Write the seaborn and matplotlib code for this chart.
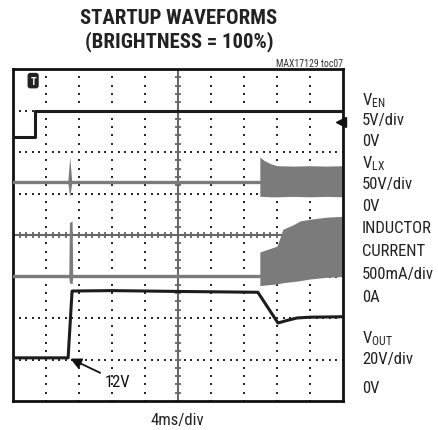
import matplotlib
matplotlib.use('Agg')
import matplotlib.pyplot as plt
from matplotlib import font_manager
import seaborn as sns
import pandas as pd
import numpy as np

# ---- data read from the scope shot (x in divisions 0..10, y in divisions 0..8) ----
ven_x = [0, 0.67, 0.67, 10]
ven_y = [6.36, 6.36, 6.98, 6.98]

vlx_x = [0, 7.48]
vlx_y = [5.28, 5.28]
vlx_spike_x = [1.66, 1.72, 1.78]
vlx_spike_hi = [5.30, 5.88, 5.30]
vlx_spike_lo = [5.26, 4.92, 5.26]
vlx_band_x = [7.48, 7.6, 7.8, 8.0, 8.5, 9.0, 9.5, 10.0]
vlx_band_hi = [5.88, 5.80, 5.72, 5.67, 5.66, 5.67, 5.66, 5.67]
vlx_band_lo = [4.93, 4.93, 4.92, 4.92, 4.93, 4.92, 4.93, 4.92]

il_x = [0, 7.48]
il_y = [3.01, 3.01]
il_spike_x = [1.69, 1.71, 1.79, 1.81]
il_spike_hi = [3.02, 4.30, 4.34, 3.02]
il_spike_lo = [3.00, 2.85, 2.82, 3.00]
il_band_x = [7.48, 7.7, 8.0, 8.18, 8.5, 8.7, 9.0, 9.5, 10.0]
il_band_hi = [3.59, 3.65, 3.73, 4.14, 4.25, 4.34, 4.38, 4.43, 4.45]
il_band_lo = [2.78, 2.80, 2.82, 2.85, 2.88, 2.90, 2.94, 2.98, 3.00]

vout_x = [0, 1.67, 1.79, 3, 5, 7.42, 8.03, 8.3, 8.6, 9.0, 10]
vout_y = [1.04, 1.04, 2.65, 2.66, 2.64, 2.62, 1.88, 1.94, 2.00, 2.02, 2.03]

right_labels = [
    (r'$\mathrm{V}_{\mathrm{EN}}$', 101), ('5V/div', 121), ('0V', 142),
    (r'$\mathrm{V}_{\mathrm{LX}}$', 164), ('50V/div', 185), ('0V', 207),
    ('INDUCTOR', 229), ('CURRENT', 252), ('500mA/div', 275), ('0A', 297),
    (r'$\mathrm{V}_{\mathrm{OUT}}$', 339), ('20V/div', 360), ('0V', 389),
]

sns.set_theme(style='white')

# pick the narrowest installed sans
names = {f.name for f in font_manager.fontManager.ttflist}
fam = 'Liberation Sans'
for cand in ['Roboto Condensed', 'Liberation Sans Narrow', 'Roboto']:
    if cand in names:
        fam = cand
        break
plt.rcParams['font.family'] = [fam, 'DejaVu Sans']
plt.rcParams['mathtext.fontset'] = 'custom'
plt.rcParams['mathtext.rm'] = fam
plt.rcParams['mathtext.it'] = fam
plt.rcParams['mathtext.bf'] = fam + ':bold'

W, H = 438, 431
fig = plt.figure(figsize=(W / 100, H / 100), dpi=100)
fig.patch.set_facecolor('white')
ax = fig.add_axes([13 / W, 29 / H, 330 / W, 332 / H])
ax.set_xlim(0, 10)
ax.set_ylim(0, 8)
ax.set_xticks([])
ax.set_yticks([])
for s in ax.spines.values():
    s.set_color('#111111')
    s.set_linewidth(2.0)

# dotted graticule
dot_c = '#2a2a2a'
yy = np.arange(0, 8.01, 0.2)
xx = np.arange(0, 10.01, 0.2)
for k in range(1, 10):
    if k == 5:
        continue
    ax.scatter(np.full_like(yy, k), yy, marker='s', s=2.6, color=dot_c, linewidths=0, zorder=1)
for k in range(1, 8):
    if k == 4:
        continue
    ax.scatter(xx, np.full_like(xx, k), marker='s', s=2.6, color=dot_c, linewidths=0, zorder=1)

# centre cross with minor ticks
cc = '#666666'
ax.axhline(4, color=cc, lw=1.5, zorder=1)
ax.axvline(5, color=cc, lw=1.5, zorder=1)
ax.scatter(xx, np.full_like(xx, 4), marker='|', s=24, color=cc, linewidths=1.3, zorder=1)
ax.scatter(np.full_like(yy, 5), yy, marker='_', s=24, color=cc, linewidths=1.3, zorder=1)

# gray traces: VLX and inductor current
gray = '#7b7b7b'
ax.fill_between(vlx_spike_x, vlx_spike_lo, vlx_spike_hi, color=gray, lw=0, zorder=2)
ax.fill_between(vlx_band_x, vlx_band_lo, vlx_band_hi, color=gray, lw=0, zorder=2)
ax.fill_between(il_spike_x, il_spike_lo, il_spike_hi, color=gray, lw=0, zorder=2)
ax.fill_between(il_band_x, il_band_lo, il_band_hi, color=gray, lw=0, zorder=2)

df_vlx = pd.DataFrame({'t': vlx_x, 'v': vlx_y})
df_il = pd.DataFrame({'t': il_x, 'v': il_y})
sns.lineplot(data=df_vlx, x='t', y='v', ax=ax, color=gray, lw=2.4, estimator=None, sort=False, zorder=3)
sns.lineplot(data=df_il, x='t', y='v', ax=ax, color=gray, lw=2.4, estimator=None, sort=False, zorder=3)

# dark traces: VEN and VOUT
dark = '#1c1c1c'
df_ven = pd.DataFrame({'t': ven_x, 'v': ven_y})
df_vout = pd.DataFrame({'t': vout_x, 'v': vout_y})
sns.lineplot(data=df_ven, x='t', y='v', ax=ax, color=dark, lw=2.2, estimator=None, sort=False, zorder=4)
sns.lineplot(data=df_vout, x='t', y='v', ax=ax, color=dark, lw=2.2, estimator=None, sort=False, zorder=4)
ax.set_xlabel('')
ax.set_ylabel('')

# trigger markers
ax.text(0.61, 7.72, 'T', color='white', fontsize=7.5, fontweight='bold', ha='center', va='center',
        bbox=dict(boxstyle='round,pad=0.2', fc='#222222', ec='#222222'), zorder=5)
ax.plot([9.93], [6.72], marker='<', markersize=6.5, color='#111111', clip_on=False, zorder=5)

# titles and labels
t1 = fig.text(179 / W, 1 - 19 / H, 'STARTUP WAVEFORMS', ha='center', va='center',
              fontsize=15, fontweight='bold', color='#222222')
t2 = fig.text(179 / W, 1 - 42 / H, '(BRIGHTNESS = 100%)', ha='center', va='center',
              fontsize=15, fontweight='bold', color='#222222')
fig.text(343 / W, 1 - 64 / H, 'MAX17129 toc07', ha='right', va='center', fontsize=7, color='#333333')
t_x = fig.text(177 / W, 1 - 421 / H, '4ms/div', ha='center', va='center', fontsize=12, color='#222222')

rl = []
for txt, ypx in right_labels:
    rl.append(fig.text(362 / W, 1 - ypx / H, txt, ha='left', va='center', fontsize=12.5, color='#222222'))

# 12V annotation
ann = ax.annotate('12V', xy=(1.74, 1.02), xytext=(2.78, 0.48), fontsize=12.5, ha='left', va='center',
                  color='#111111',
                  arrowprops=dict(arrowstyle='-|>', color='#111111', lw=1.3, mutation_scale=16,
                                  shrinkA=1, shrinkB=0))

# fit text widths to the reference
fig.canvas.draw()
r = fig.canvas.get_renderer()
def fit(t, target):
    w = t.get_window_extent(r).width
    t.set_fontsize(min(t.get_fontsize() * target / w, 16))
fit(t1, 198)
t2.set_fontsize(t1.get_fontsize())
w_ind = rl[6].get_window_extent(r).width
fs = min(12.5 * 70 / w_ind, 12.5)
for t in rl:
    t.set_fontsize(fs)
t_x.set_fontsize(fs)
ann.set_fontsize(fs)

fig.savefig('out.png', dpi=100, facecolor='white')
